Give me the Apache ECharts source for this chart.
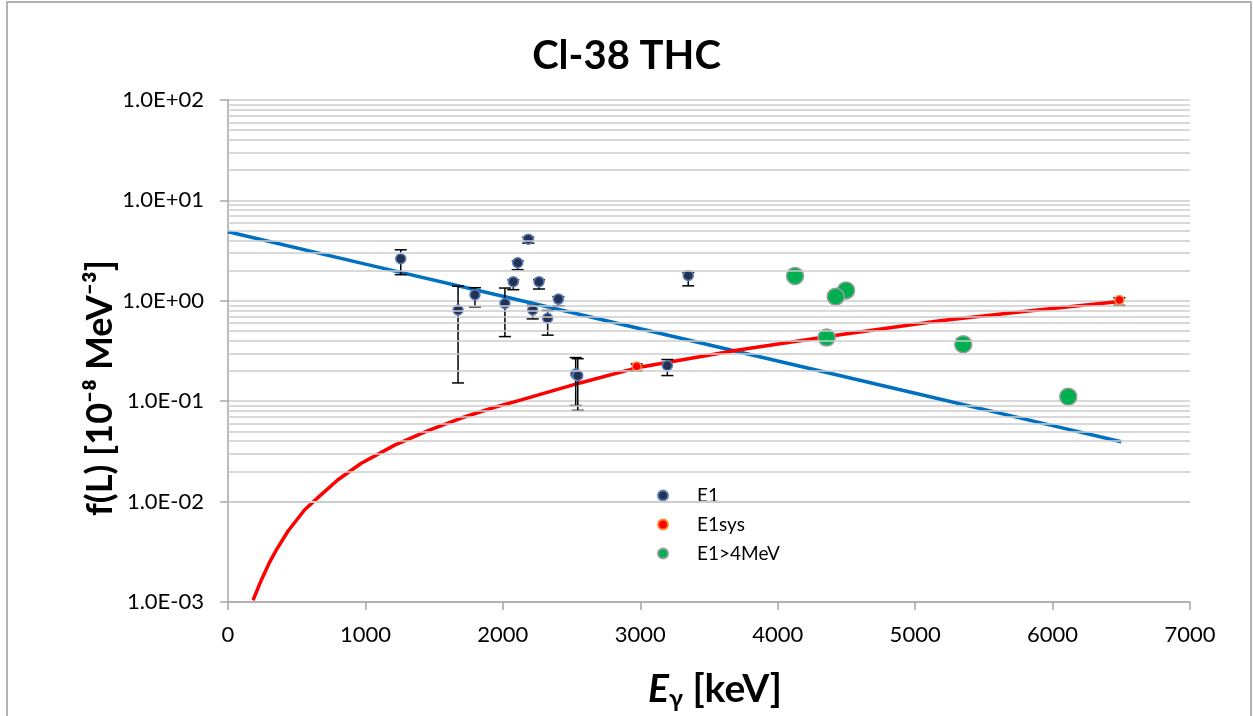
<!DOCTYPE html>
<html>
<head>
<meta charset="utf-8">
<script src="https://cdn.jsdelivr.net/npm/echarts@6/dist/echarts.min.js"></script>
<style>
  html, body { margin: 0; padding: 0; background: #fff; }
  #chart { width: 1253px; height: 716px; }
</style>
</head>
<body>
<div id="chart"></div>
<script>
// E1 points: [E (keV), f(L)]
const e1Points = [
  [1257, 2.62], [1674, 0.81], [1797, 1.15], [2015, 0.94], [2076, 1.55],
  [2108, 2.39], [2185, 4.11], [2263, 1.55], [2217, 0.81], [2404, 1.04],
  [2326, 0.67], [2530, 0.187], [2545, 0.18], [3197, 0.227], [3349, 1.79]
]
// E1 error bars: [E, low, high]
const e1Errors = [
  [1257, 1.82, 3.22], [1674, 0.152, 1.4], [1797, 0.87, 1.35], [2015, 0.44, 1.34], [2076, 1.29, 1.62],
  [2108, 2.04, 2.5], [2185, 3.75, 4.3], [2263, 1.31, 1.62], [2217, 0.66, 0.9], [2404, 0.89, 1.1],
  [2326, 0.455, 0.8], [2530, 0.0905, 0.272], [2545, 0.081, 0.265], [3197, 0.18, 0.26], [3349, 1.41, 1.91]
]
const e1sysPoints = [[2974, 0.222], [6486, 1.02]]
const e1sysErrors = [[2974, 0.2, 0.235], [6486, 0.9, 1.07]]
const e1HighPoints = [[4126, 1.77], [4497, 1.27], [4422, 1.10], [4356, 0.43], [5350, 0.37], [6114, 0.111]]

// fitted curves
const blueLine = [[0, 4.87], [1000, 2.32], [2000, 1.11], [3000, 0.527], [4000, 0.251], [5000, 0.12], [6000, 0.0571], [6500, 0.0394]]
const redLine = [
  [182, 0.00104], [243, 0.00166], [300, 0.00245], [352, 0.0033], [437, 0.0051], [558, 0.0083],
  [662, 0.0112], [800, 0.0165], [970, 0.0241], [1213, 0.0365], [1455, 0.051], [1698, 0.068],
  [1940, 0.087], [2134, 0.103], [2561, 0.152], [2974, 0.215], [3725, 0.325],
  [4453, 0.458], [5181, 0.632], [5908, 0.814], [6490, 0.985]
]

const xTicks = [0, 7000, 1000]
const yDecades = [-3, -2, -1, 0, 1, 2]
const legendNames = ['E1', 'E1sys', 'E1>4MeV']

const FONT = 'Lato, "Liberation Sans", sans-serif'
const GRID_COLOR = '#cdcdcd'

// log minor gridlines at 2..9 x 10^d
const minorLines = []
yDecades.slice(0, -1).forEach(d => {
  for (let k = 2; k <= 9; k++) minorLines.push({ yAxis: k * Math.pow(10, d) })
})

function errRender (params, api) {
  const x = api.value(0)
  const lo = api.coord([x, api.value(1)])
  const hi = api.coord([x, api.value(2)])
  const w = 6
  const st = { stroke: '#000', lineWidth: 1.5 }
  return {
    type: 'group',
    children: [
      { type: 'line', shape: { x1: lo[0], y1: lo[1], x2: hi[0], y2: hi[1] }, style: st },
      { type: 'line', shape: { x1: lo[0] - w, y1: lo[1], x2: lo[0] + w, y2: lo[1] }, style: st },
      { type: 'line', shape: { x1: hi[0] - w, y1: hi[1], x2: hi[0] + w, y2: hi[1] }, style: st }
    ]
  }
}

function fmtExp (v) {
  const e = Math.round(Math.log10(v))
  return '1.0E' + (e < 0 ? '-' : '+') + String(Math.abs(e)).padStart(2, '0')
}

const chart = echarts.init(document.getElementById('chart'))
chart.setOption({
  animation: false,
  backgroundColor: '#fff',
  textStyle: { fontFamily: FONT },
  title: {
    text: 'Cl-38 THC',
    left: 'center',
    top: 31,
    textStyle: { fontFamily: FONT, fontSize: 40, fontWeight: 'bold', color: '#000' }
  },
  grid: { left: 228, right: 63, top: 100, bottom: 114 },
  legend: {
    data: legendNames,
    orient: 'vertical',
    left: 652,
    top: 481,
    itemGap: 10,
    itemWidth: 10,
    itemHeight: 10,
    formatter: name => '{p|}{n|' + name + '}',
    textStyle: {
      fontFamily: FONT, fontSize: 19, color: '#000',
      rich: {
        p: { width: 24 },
        n: { fontFamily: FONT, fontSize: 19, color: '#000', lineHeight: 22 }
      }
    }
  },
  xAxis: {
    type: 'value',
    min: xTicks[0],
    max: xTicks[1],
    interval: xTicks[2],
    axisLine: { lineStyle: { color: '#a6a6a6', width: 1.5 } },
    axisTick: { show: true, length: 8, lineStyle: { color: '#a6a6a6', width: 1.5 } },
    axisLabel: { fontFamily: FONT, fontSize: 22, color: '#000', margin: 22, formatter: v => String(v) },
    splitLine: { show: false }
  },
  yAxis: {
    type: 'log',
    logBase: 10,
    min: Math.pow(10, yDecades[0]),
    max: Math.pow(10, yDecades[yDecades.length - 1]),
    interval: 1,
    axisLine: { show: true, lineStyle: { color: '#a6a6a6', width: 1.5 } },
    axisTick: { show: true, length: 8, lineStyle: { color: '#a6a6a6', width: 1.5 } },
    axisLabel: { fontFamily: FONT, fontSize: 22, color: '#000', margin: 24, formatter: fmtExp },
    splitLine: { show: true, lineStyle: { color: GRID_COLOR, width: 1.5 } }
  },
  graphic: [
    {
      type: 'rect', silent: true, z: -1,
      shape: { x: 7, y: 2, width: 1244, height: 740 },
      style: { fill: 'none', stroke: '#b3b3b3', lineWidth: 2 }
    },
    {
      type: 'text', x: 100, y: 388, rotation: Math.PI / 2,
      style: {
        text: 'f(L) [10⁻⁸ MeV⁻³]',
        font: 'bold 36px ' + FONT,
        fill: '#000', align: 'center', verticalAlign: 'middle'
      }
    },
    {
      type: 'text', x: 715, y: 689,
      style: {
        text: '{e|E}{g|γ}{t| [keV]}',
        align: 'center', verticalAlign: 'middle',
        rich: {
          e: { font: 'italic bold 39px ' + FONT, fill: '#000', lineHeight: 42 },
          g: { font: 'bold 25px ' + FONT, fill: '#000', lineHeight: 42, padding: [20, 0, 0, 0] },
          t: { font: 'bold 39px ' + FONT, fill: '#000', lineHeight: 42 }
        }
      }
    }
  ],
  series: [
    {
      name: 'grid', type: 'line', data: [], z: 0, silent: true,
      markLine: {
        silent: true, symbol: ['none', 'none'], label: { show: false },
        lineStyle: { type: 'solid', color: GRID_COLOR, width: 1.5 },
        emphasis: { disabled: true },
        data: minorLines
      }
    },
    {
      name: 'blueFit', type: 'line', data: blueLine, showSymbol: false, z: 2,
      lineStyle: { color: '#0070c0', width: 3.5 }, itemStyle: { color: '#0070c0' }
    },
    {
      name: 'redFit', type: 'line', data: redLine, showSymbol: false, z: 2,
      lineStyle: { color: '#ff0000', width: 3.5 }, itemStyle: { color: '#ff0000' }
    },
    {
      name: 'E1err', type: 'custom', data: e1Errors, z: 3, renderItem: errRender,
      encode: { x: 0, y: [1, 2] }, silent: true
    },
    {
      name: 'E1sysErr', type: 'custom', data: e1sysErrors, z: 3, renderItem: errRender,
      encode: { x: 0, y: [1, 2] }, silent: true
    },
    {
      name: 'E1', type: 'scatter', data: e1Points, z: 4, symbolSize: 10,
      itemStyle: { color: '#26324f', borderColor: '#5a80c4', borderWidth: 1.5, opacity: 1 }
    },
    {
      name: 'E1sys', type: 'scatter', data: e1sysPoints, z: 4, symbolSize: 9,
      itemStyle: { color: '#ff0000', borderColor: '#ff8a33', borderWidth: 1.5, opacity: 1 }
    },
    {
      name: 'E1>4MeV', type: 'scatter', data: e1HighPoints, z: 4, symbolSize: 17,
      itemStyle: { color: '#00b050', borderColor: '#9c9c9c', borderWidth: 1.5, opacity: 1 }
    }
  ]
})
</script>
</body>
</html>
